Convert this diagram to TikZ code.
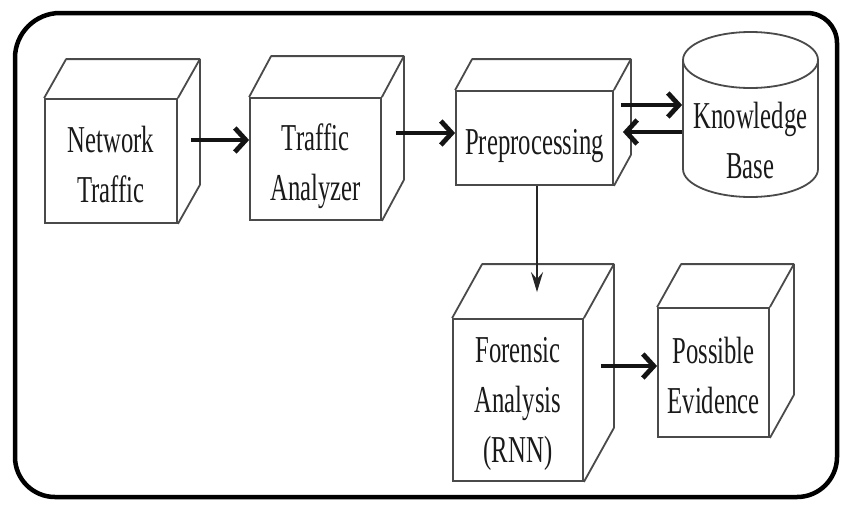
\documentclass[tikz,border=0pt]{standalone}
\usepackage{fontspec}
\usepackage{graphicx}
\setmainfont{Liberation Serif}
\usetikzlibrary{arrows.meta,calc}
\definecolor{edge}{HTML}{4A4A4A}
\definecolor{ink}{HTML}{1A1A1A}
% narrow, centred multi-line block label, lowered by the optional amount
\newcommand\blocktext[2][6pt]{\raisebox{-#1}[\height][\depth]{%
  \scalebox{0.65}[1]{\begin{tabular}{@{}c@{}}#2\end{tabular}}}}
\tikzset{
  face/.style={draw=edge, line width=1.8pt, fill=white, align=center,
    text=ink, font=\fontsize{38}{50}\selectfont, inner sep=0pt},
  cubeline/.style={draw=edge, line width=1.8pt, line join=round},
  frameline/.style={draw=black, line width=4.5pt},
  arr/.style={draw=black!92, line width=4.8pt,
    -{Straight Barb[length=11pt,width=24pt]}},
  arrthin/.style={draw=black!85, line width=2.4pt,
    -{Stealth[length=20pt,width=12pt,inset=7pt]}},
}
\begin{document}
\begin{tikzpicture}[x=1pt,y=-1pt]
\useasboundingbox (0,0) rectangle (842,504);

% outer frame with unequal corner radii
\draw[frameline] (15,58) .. controls (15,33.2) and (35.2,13) .. (60,13)
  -- (807,13) .. controls (823.6,13) and (837,26.4) .. (837,43)
  -- (837,457) .. controls (837,479.1) and (819.1,497) .. (797,497)
  -- (55,497) .. controls (32.9,497) and (15,479.1) .. (15,457) -- cycle;

% front faces of the blocks
\node[face, minimum width=132pt, minimum height=124pt] (nt) at (111,161) {\blocktext{Network\\Traffic}};
\node[face, minimum width=131pt, minimum height=122pt] (ta) at (315.5,159) {\blocktext{Traffic\\Analyzer}};
\node[face, minimum width=157pt, minimum height=94pt]  (pp) at (534.5,138) {\blocktext{Preprocessing}};
\node[face, minimum width=130pt, minimum height=162pt] (fa) at (518,400) {\blocktext[2pt]{Forensic\\Analysis\\(RNN)}};
\node[face, minimum width=111pt, minimum height=129pt] (pe) at (713.5,372.5) {\blocktext{Possible\\Evidence}};

% top and side faces of each block
\foreach \n/\dx/\dy in {nt/22/-39, ta/22/-41, pp/17/-31, fa/30/-54, pe/24/-43}{
  \draw[cubeline] (\n.north west) -- ++(\dx,\dy)
    -- ($(\n.north east)+(\dx,\dy)$) -- ($(\n.south east)+(\dx,\dy)$)
    -- (\n.south east);
  \draw[cubeline] (\n.north east) -- ++(\dx,\dy);
}

% knowledge base cylinder
\draw[cubeline, fill=white] (683,60) -- (683,169)
  .. controls (683,184.5) and (713.2,197) .. (750.5,197)
  .. controls (787.8,197) and (818,184.5) .. (818,169) -- (818,60);
\draw[cubeline, fill=white] (750.5,60) ellipse [x radius=67.5, y radius=28];
\node[face, draw=none, fill=none, minimum width=135pt] (kb) at (750.5,143) {\blocktext[0pt]{Knowledge\\Base}};

% connectors
\draw[arr] ($(nt.east)+(13,-21)$) coordinate (a1) -- (a1 -| ta.west);
\draw[arr] ($(ta.east)+(14,-26)$) coordinate (a2) -- (a2 -| pp.west);
\draw[arr] ($(pp.east)+(7,-33)$) coordinate (a3) -- (a3 -| kb.west);
\coordinate (a4e) at ($(pp.east)+(9,-6)$);
\draw[arr] (kb.west |- a4e) -- (a4e);
\coordinate (a5) at ($(pp.south)+(2.5,0)$);
\coordinate (a5e) at ($(fa.north)+(0,-26)$);
\draw[arrthin] (a5) -- (a5 |- a5e);
\draw[arr] ($(fa.east)+(17,-34)$) coordinate (a6) -- (a6 -| pe.west);
\end{tikzpicture}
\end{document}
